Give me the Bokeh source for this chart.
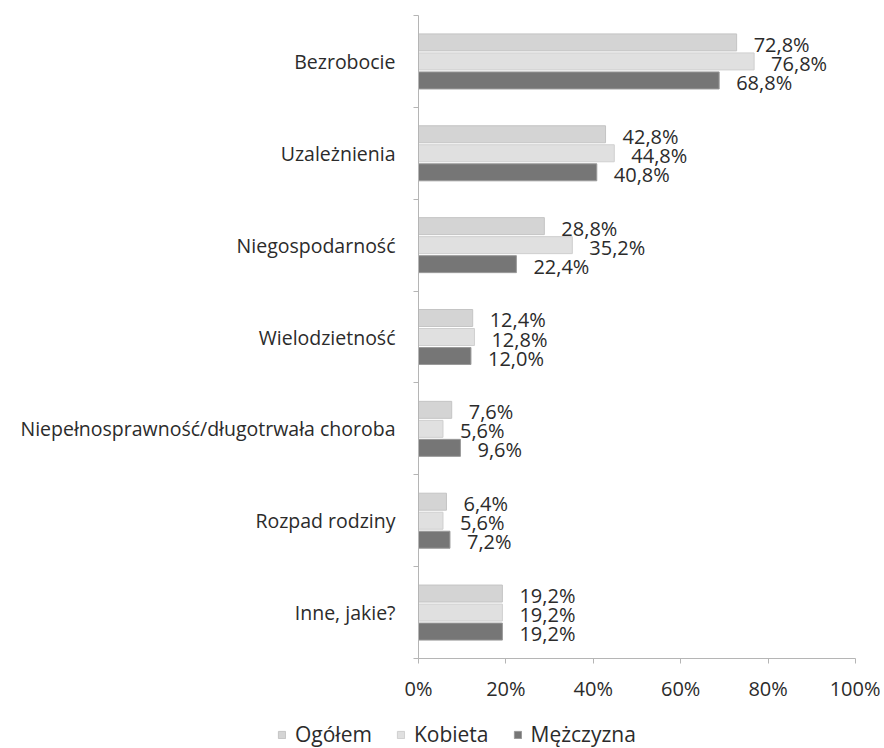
from bokeh.plotting import figure
from bokeh.models import (ColumnDataSource, Range1d, LinearAxis, FixedTicker,
                          PrintfTickFormatter, Legend, LegendItem)
from bokeh.core.properties import value
from bokeh.embed import file_html
from bokeh.resources import INLINE

categories = ["Bezrobocie", "Uzależnienia", "Niegospodarność", "Wielodzietność",
              "Niepełnosprawność/długotrwała choroba", "Rozpad rodziny", "Inne, jakie?"]
ogolem = [72.8, 42.8, 28.8, 12.4, 7.6, 6.4, 19.2]
kobieta = [76.8, 44.8, 35.2, 12.8, 5.6, 5.6, 19.2]
mezczyzna = [68.8, 40.8, 22.4, 12.0, 9.6, 7.2, 19.2]
series_names = ["Ogółem", "Kobieta", "Mężczyzna"]
x_ticks = [0, 20, 40, 60, 80, 100]

FONT = "Open Sans"
TXT = "#2b2b2b"
n = len(categories)
centers = [n - 0.5 - i for i in range(n)]

W, H1, H2 = 880, 713, 35
p = figure(width=W, height=H1, output_backend="svg", toolbar_location=None,
           x_range=Range1d(0, 100), y_range=Range1d(0, n),
           x_axis_type=None, y_axis_type=None,
           min_border_left=418, min_border_right=W - 855, min_border_top=15,
           min_border_bottom=H1 - 658)
p.outline_line_color = None
p.xgrid.visible = False
p.ygrid.visible = False

xaxis = LinearAxis(ticker=FixedTicker(ticks=x_ticks, minor_ticks=[]),
                   formatter=PrintfTickFormatter(format="%d%%"))
xaxis.axis_line_color = "#b5b5b5"
xaxis.major_tick_line_color = "#b5b5b5"
xaxis.major_tick_in = 0
xaxis.major_tick_out = 5
xaxis.minor_tick_line_color = None
xaxis.major_label_text_font = FONT
xaxis.major_label_text_font_size = "20px"
xaxis.major_label_text_color = TXT
xaxis.major_label_standoff = 11
p.add_layout(xaxis, "below")

yaxis = LinearAxis(ticker=FixedTicker(ticks=centers, minor_ticks=list(range(n + 1))))
yaxis.major_label_overrides = {c: cat for c, cat in zip(centers, categories)}
yaxis.axis_line_color = "#b5b5b5"
yaxis.major_tick_line_color = None
yaxis.major_tick_in = 0
yaxis.major_tick_out = 0
yaxis.minor_tick_line_color = "#b5b5b5"
yaxis.minor_tick_in = 0
yaxis.minor_tick_out = 5
yaxis.major_label_text_font = FONT
yaxis.major_label_text_font_size = "19.5px"
yaxis.major_label_text_color = TXT
yaxis.major_label_standoff = 18
p.add_layout(yaxis, "left")

offsets = [0.207, 0.0, -0.207]
fills = ["#d4d4d4", "#e0e0e0", "#767676"]
lines = ["#c4c4c4", "#cfcfcf", "#9a9a9a"]
bar_h = 0.185

def fmt(v):
    return f"{v:.1f}".replace(".", ",") + "%"

series = [ogolem, kobieta, mezczyzna]
for vals, off, fc, lc in zip(series, offsets, fills, lines):
    src = ColumnDataSource(dict(y=[c + off for c in centers], v=vals,
                                lab=[fmt(v) for v in vals]))
    p.hbar(y="y", right="v", left=0, height=bar_h, source=src,
           fill_color=fc, line_color=lc, line_width=1)
    p.text(x="v", y="y", text="lab", source=src, x_offset=17, y_offset=2,
           text_font=value(FONT), text_font_size="20px", text_color=TXT,
           text_baseline="middle", text_align="left")

# legend strip below the chart (separate root so its frame spans the full width)
lf = figure(width=W, height=H2, output_backend="svg", toolbar_location=None,
            x_range=Range1d(1000, 1001), y_range=Range1d(1000, 1001),
            x_axis_type=None, y_axis_type=None,
            min_border_left=0, min_border_right=0, min_border_top=0, min_border_bottom=0)
lf.outline_line_color = None
lf.xgrid.visible = False
lf.ygrid.visible = False
items = []
for nm, vals, fc, lc in zip(series_names, series, fills, lines):
    r = lf.hbar(y=centers, right=vals, left=0, height=bar_h, fill_color=fc, line_color=lc)
    items.append(LegendItem(label=nm, renderers=[r]))
legend = Legend(items=items, orientation="horizontal", location=(277, 0))
legend.border_line_color = None
legend.background_fill_alpha = 0
legend.padding = 0
legend.margin = 0
legend.spacing = 24
legend.glyph_width = 9
legend.glyph_height = 9
legend.label_standoff = 9
legend.label_text_font = FONT
legend.label_text_font_size = "21px"
legend.label_text_color = TXT
legend.label_height = 22
lf.add_layout(legend, "center")

open("out.html", "w").write(file_html([p, lf], INLINE))
